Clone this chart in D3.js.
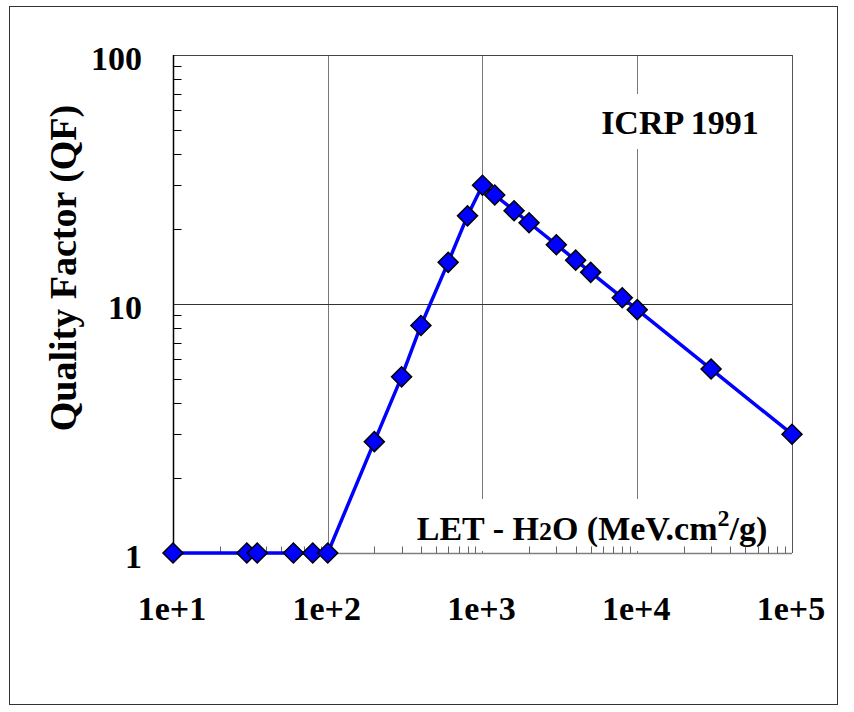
<!DOCTYPE html>
<html>
<head>
<meta charset="utf-8">
<script src="https://cdn.jsdelivr.net/npm/d3@7"></script>
<style>
  html, body { margin: 0; padding: 0; background: #fff; }
  svg { display: block; }
  text { font-family: "Liberation Serif", "Times New Roman", serif; font-weight: bold; fill: #000; }
</style>
</head>
<body>
<script>
// LET in water (MeV.cm^2/g) and the ICRP 1991 quality factor at each point
const letValues = [10, 30, 35, 60, 80, 100, 200, 300, 400, 600, 800, 1000,
                   1200, 1600, 2000, 3000, 4000, 5000, 8000, 10000, 30000, 100000];
const qfValues  = [1, 1, 1, 1, 1, 1, 2.8, 5.1, 8.2, 14.7, 22.6, 30,
                   27.4, 23.7, 21.2, 17.3, 15.0, 13.4, 10.6, 9.49, 5.48, 3.0];
const xTickValues = [10, 100, 1000, 10000, 100000];
const xTickLabels = ["1e+1", "1e+2", "1e+3", "1e+4", "1e+5"];
const yTickValues = [1, 10, 100];
const yTickLabels = ["1", "10", "100"];

const W = 854, H = 712;
const svg = d3.select("body").append("svg").attr("width", W).attr("height", H);

const x = d3.scaleLog().domain([10, 1e5]).range([173, 792]);
const y = d3.scaleLog().domain([1, 100]).range([553, 55]);

// outer frame
svg.append("rect").attr("x", 9.5).attr("y", 6.5).attr("width", 828).attr("height", 698)
  .attr("fill", "none").attr("stroke", "#333").attr("stroke-width", 1);

// minor tick values for each decade
const minor = (lo, hi) => {
  const out = [];
  for (let d = lo; d < hi; d *= 10) for (let k = 2; k <= 9; k++) out.push(d * k);
  return out;
};

// grid: vertical decades, horizontal decade, top and right border
const g = svg.append("g");
g.selectAll(".vg").data([100, 1000, 10000]).join("line")
  .attr("x1", d => Math.round(x(d)) + 0.5).attr("x2", d => Math.round(x(d)) + 0.5)
  .attr("y1", y(100)).attr("y2", y(1))
  .attr("stroke", "#777").attr("stroke-width", 1);
g.append("line").attr("x1", x(10)).attr("x2", x(1e5))
  .attr("y1", Math.round(y(10)) + 0.5).attr("y2", Math.round(y(10)) + 0.5)
  .attr("stroke", "#333");
g.append("line").attr("x1", x(10)).attr("x2", x(1e5))
  .attr("y1", y(100) + 0.5).attr("y2", y(100) + 0.5).attr("stroke", "#444");
g.append("line").attr("x1", x(1e5) + 0.5).attr("x2", x(1e5) + 0.5)
  .attr("y1", y(100)).attr("y2", y(1)).attr("stroke", "#555");

// labels inside the plot, with white backing that hides the grid
function boxedLabel(parent, build, pad) {
  const grp = parent.append("g");
  const rect = grp.append("rect").attr("fill", "#fff");
  const t = build(grp);
  const b = t.node().getBBox();
  rect.attr("x", b.x - pad[3]).attr("y", b.y - pad[0])
    .attr("width", b.width + pad[1] + pad[3]).attr("height", b.height + pad[0] + pad[2]);
  return grp;
}
boxedLabel(svg, grp => grp.append("text").attr("x", 680).attr("y", 134)
  .attr("text-anchor", "middle").attr("font-size", 34).text("ICRP 1991"), [10, 10, 8, 10]);

boxedLabel(svg, grp => {
  const t = grp.append("text").attr("x", 592).attr("y", 540)
    .attr("text-anchor", "middle").attr("font-size", 34);
  t.append("tspan").text("LET - H");
  t.append("tspan").attr("font-size", 26).text("2");
  t.append("tspan").text("O (MeV.cm");
  t.append("tspan").attr("font-size", 24).attr("dy", -14).text("2");
  t.append("tspan").attr("dy", 14).text("/g)");
  return t;
}, [6, 4, 3, 6]);

// bottom axis (gray) with upward minor ticks
const xa = svg.append("g").attr("transform", `translate(0,${y(1) + 0.5})`);
xa.append("line").attr("x1", x(10)).attr("x2", x(1e5)).attr("stroke", "#808080").attr("stroke-width", 1.5);
xa.selectAll(".mt").data(minor(10, 1e5)).join("line")
  .attr("x1", d => Math.round(x(d)) + 0.5).attr("x2", d => Math.round(x(d)) + 0.5)
  .attr("y1", 0).attr("y2", -7).attr("stroke", "#666");
svg.selectAll(".xl").data(xTickValues).join("text")
  .attr("x", d => x(d) - 1).attr("y", 620).attr("text-anchor", "middle")
  .attr("font-size", 34).text((d, i) => xTickLabels[i]);

// left axis (black) with inward minor ticks
const ya = svg.append("g").attr("transform", `translate(${x(10) + 0.5},0)`);
ya.append("line").attr("y1", y(100)).attr("y2", y(1)).attr("stroke", "#000").attr("stroke-width", 1.5);
ya.selectAll(".mt").data(minor(1, 100)).join("line")
  .attr("y1", d => Math.round(y(d)) + 0.5).attr("y2", d => Math.round(y(d)) + 0.5)
  .attr("x1", 0).attr("x2", 8).attr("stroke", "#000");
svg.selectAll(".yl").data(yTickValues).join("text")
  .attr("x", 142).attr("y", d => y(d) + 14.5).attr("text-anchor", "end")
  .attr("font-size", 34).text((d, i) => yTickLabels[i]);

// y-axis title
svg.append("text").attr("transform", "translate(76,268) rotate(-90)")
  .attr("text-anchor", "middle").attr("font-size", 38).attr("fill", "#111")
  .text("Quality Factor (QF)");

// series line and diamond markers
const pts = letValues.map((v, i) => [v, qfValues[i]]);
svg.append("path").datum(pts)
  .attr("d", d3.line().x(d => x(d[0])).y(d => y(d[1])))
  .attr("fill", "none").attr("stroke", "#0000ff").attr("stroke-width", 3.5)
  .attr("stroke-linejoin", "round");
const diamond = d3.symbol().type(d3.symbolSquare).size(200);
svg.selectAll(".pt").data(pts).join("path")
  .attr("d", diamond)
  .attr("transform", d => `translate(${x(d[0])},${y(d[1])}) rotate(45)`)
  .attr("fill", "#0000ff").attr("stroke", "#000").attr("stroke-width", 1.5);
</script>
</body>
</html>
